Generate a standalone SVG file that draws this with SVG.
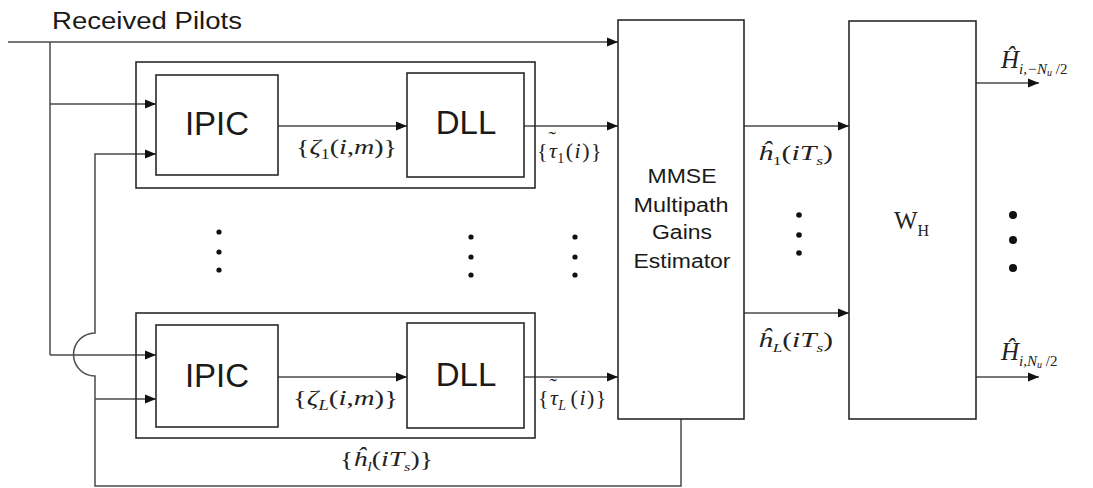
<svg xmlns="http://www.w3.org/2000/svg" width="1093" height="488" viewBox="0 0 1093 488">
<defs>
<marker id="ah" markerUnits="userSpaceOnUse" markerWidth="12" markerHeight="10" refX="11" refY="5" orient="auto">
<path d="M0,0.5 L11,5 L0,9.5 z" fill="#111"/>
</marker>
<style>
.box{fill:#fff;stroke:#2a2a2a;stroke-width:1.6}
.frame{fill:none;stroke:#2a2a2a;stroke-width:1.6}
.ln{fill:none;stroke:#4a4a4a;stroke-width:1.5}
.arr{fill:none;stroke:#4a4a4a;stroke-width:1.5;marker-end:url(#ah)}
.sans{font-family:"Liberation Sans",Arial,sans-serif;fill:#1a1a1a}
.big{font-size:33px;text-anchor:middle}
.mid{font-size:20px;text-anchor:middle}
.m{font-family:"Liberation Serif","Times New Roman",serif;font-size:22px;fill:#222}
.it{font-style:italic}
.dot{fill:#111}
</style>
</defs>
<rect width="1093" height="488" fill="#fff"/>

<text class="sans" x="52" y="29" font-size="23" textLength="190" lengthAdjust="spacingAndGlyphs">Received Pilots</text>

<g id="connectors">
<path class="arr" d="M8,42 H618"/>
<path class="ln" d="M50,42 V355"/>
<path class="arr" d="M50,104 H156"/>
<path class="arr" d="M50,355 H156"/>
<path class="arr" d="M681,419 V486 H95 V376 A21.5,21.5 0 0 1 95,333 V154 H156"/>
<path class="arr" d="M95,399 H156"/>
<path class="arr" d="M278,126 H407"/>
<path class="arr" d="M524,126 H618"/>
<path class="arr" d="M278,377 H407"/>
<path class="arr" d="M524,377 H618"/>
<path class="arr" d="M744,126 H849"/>
<path class="arr" d="M744,313 H849"/>
<path class="arr" d="M976,83 H1039"/>
<path class="arr" d="M976,377 H1039"/>
</g>

<g id="path1">
<rect class="frame" x="136" y="62" width="399" height="126"/>
<g id="ipic1"><rect class="box" x="156" y="75" width="122" height="100"/><text class="sans big" x="217" y="135">IPIC</text></g>
<g id="dll1"><rect class="box" x="407" y="73" width="117" height="104"/><text class="sans big" x="466" y="134">DLL</text></g>
</g>

<g id="pathL">
<rect class="frame" x="136" y="313" width="399" height="125"/>
<g id="ipicL"><rect class="box" x="156" y="325" width="122" height="102"/><text class="sans big" x="217" y="387">IPIC</text></g>
<g id="dllL"><rect class="box" x="407" y="323" width="117" height="105"/><text class="sans big" x="466" y="386">DLL</text></g>
</g>

<g id="mmse">
<rect class="box" x="618" y="20" width="126" height="399"/>
<text class="sans mid" x="682" y="183" textLength="69" lengthAdjust="spacingAndGlyphs">MMSE</text>
<text class="sans mid" x="681" y="212" textLength="95" lengthAdjust="spacingAndGlyphs">Multipath</text>
<text class="sans mid" x="682" y="239" textLength="60" lengthAdjust="spacingAndGlyphs">Gains</text>
<text class="sans mid" x="682" y="268" textLength="97" lengthAdjust="spacingAndGlyphs">Estimator</text>
</g>

<g id="wh">
<rect class="box" x="849" y="21" width="127" height="398"/>
<text class="m" x="894" y="229" style="font-size:25px">W<tspan font-size="16" dy="7">H</tspan></text>
</g>

<g id="labels">
<text class="m" x="296" y="154" textLength="101" lengthAdjust="spacingAndGlyphs">{<tspan class="it">ζ</tspan><tspan font-size="14" dy="5">1</tspan><tspan dy="-5">(</tspan><tspan class="it">i</tspan>,<tspan class="it">m</tspan>)}</text>
<text class="m" x="537" y="158" letter-spacing="1.5">{<tspan class="it">τ</tspan><tspan font-size="22" dx="-10" dy="-12">˜</tspan><tspan font-size="14" dx="0" dy="17">1</tspan><tspan dy="-5">(</tspan><tspan class="it">i</tspan>)}</text>
<text class="m" x="293" y="405" textLength="105" lengthAdjust="spacingAndGlyphs">{<tspan class="it">ζ</tspan><tspan class="it" font-size="14" dy="5">L</tspan><tspan dy="-5">(</tspan><tspan class="it">i</tspan>,<tspan class="it">m</tspan>)}</text>
<text class="m" x="538" y="405" letter-spacing="1.5">{<tspan class="it">τ</tspan><tspan font-size="22" dx="-10" dy="-12">˜</tspan><tspan class="it" font-size="14" dx="0" dy="17">L</tspan><tspan dx="3" dy="-5">(</tspan><tspan class="it">i</tspan>)}</text>
<text class="m" x="340" y="466" textLength="93" lengthAdjust="spacingAndGlyphs">{<tspan class="it">ĥ</tspan><tspan class="it" font-size="13" dy="5">l</tspan><tspan dy="-5">(</tspan><tspan class="it">iT</tspan><tspan class="it" font-size="13" dy="5">s</tspan><tspan dy="-5">)}</tspan></text>
<text class="m" x="758" y="160" textLength="75" lengthAdjust="spacingAndGlyphs"><tspan class="it">ĥ</tspan><tspan font-size="13" dy="5">1</tspan><tspan dy="-5">(</tspan><tspan class="it">iT</tspan><tspan class="it" font-size="13" dy="5">s</tspan><tspan dy="-5">)</tspan></text>
<text class="m" x="758" y="347" textLength="75" lengthAdjust="spacingAndGlyphs"><tspan class="it">ĥ</tspan><tspan class="it" font-size="13" dy="5">L</tspan><tspan dy="-5">(</tspan><tspan class="it">iT</tspan><tspan class="it" font-size="13" dy="5">s</tspan><tspan dy="-5">)</tspan></text>
<text class="m" x="1001" y="68" style="font-size:25px"><tspan class="it">Ĥ</tspan><tspan class="it" font-size="15" dy="6">i,−N</tspan><tspan class="it" font-size="10" dy="2">u</tspan><tspan font-size="15" dy="-2"> /2</tspan></text>
<text class="m" x="1001" y="360" style="font-size:25px"><tspan class="it">Ĥ</tspan><tspan class="it" font-size="15" dy="6">i,N</tspan><tspan class="it" font-size="10" dy="2">u</tspan><tspan font-size="15" dy="-2"> /2</tspan></text>
</g>

<g id="ellipses">
<circle class="dot" cx="219" cy="232" r="2.6"/><circle class="dot" cx="219" cy="252" r="2.6"/><circle class="dot" cx="219" cy="270" r="2.6"/>
<circle class="dot" cx="471" cy="237" r="2.6"/><circle class="dot" cx="471" cy="257" r="2.6"/><circle class="dot" cx="471" cy="275" r="2.6"/>
<circle class="dot" cx="575" cy="237" r="2.6"/><circle class="dot" cx="575" cy="257" r="2.6"/><circle class="dot" cx="575" cy="275" r="2.6"/>
<circle class="dot" cx="799" cy="215" r="2.8"/><circle class="dot" cx="799" cy="235" r="2.8"/><circle class="dot" cx="799" cy="253" r="2.8"/>
<circle class="dot" cx="1013" cy="215" r="4"/><circle class="dot" cx="1013" cy="240" r="4"/><circle class="dot" cx="1013" cy="268" r="4"/>
</g>
</svg>
